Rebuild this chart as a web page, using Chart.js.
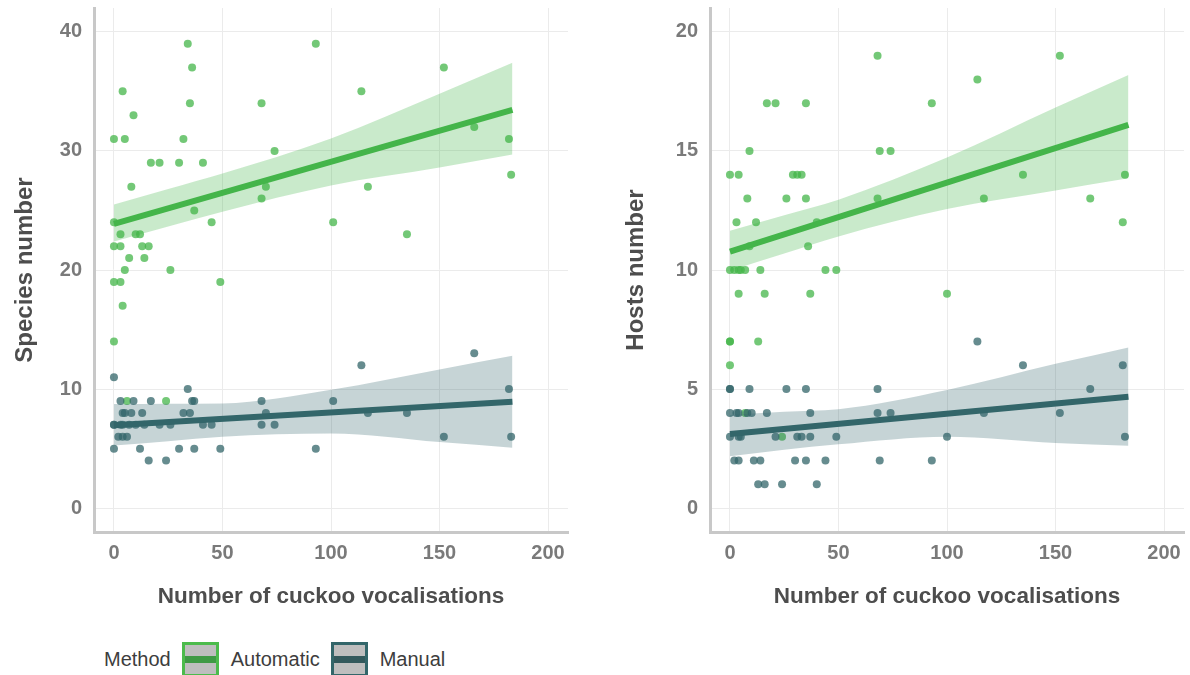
<!DOCTYPE html>
<html>
<head>
<meta charset="utf-8">
<script src="https://cdn.jsdelivr.net/npm/chart.js@4.4.1/dist/chart.umd.min.js"></script>
<style>
  body { margin: 0; background: #fff; width: 1190px; height: 675px; overflow: hidden; position: relative; font-family: "Liberation Sans", Arial, sans-serif; }
  canvas { position: absolute; top: 0; }
  #species { left: 0; }
  #hosts { left: 616px; }
  .legend { position: absolute; left: 104px; top: 642px; height: 35px; display: flex; align-items: center; font-size: 20px; color: #3d3d3d; }
  .key { width: 31px; height: 29px; background: #bebebe; border: 3px solid; position: relative; margin: 0 12px 0 11px; }
  .key span { position: absolute; left: 0; right: 0; top: 11px; height: 7px; }
</style>
</head>
<body>
<canvas id="species" width="590" height="620"></canvas>
<canvas id="hosts" width="574" height="620"></canvas>
<div class="legend">
  <span>Method</span>
  <div class="key" style="border-color:#4cbb4c"><span style="background:#3f9a45"></span></div>
  <span>Automatic</span>
  <div class="key" style="border-color:#33666a"><span style="background:#33595c"></span></div>
  <span>Manual</span>
</div>
<script>
// axis ticks
const xTicks = [0, 50, 100, 150, 200];
const speciesTicks = [0, 10, 20, 30, 40];
const hostsTicks = [0, 5, 10, 15, 20];

// species number, automatic method
const speciesAutoX = [0, 0, 0, 0, 0, 3, 3, 3, 4, 4, 5, 5, 6, 7, 8, 9, 10, 12, 13, 14, 16, 17, 21, 24, 26, 30, 32, 34, 35, 36, 37, 41, 45, 49, 68, 68, 70, 74, 93, 101, 114, 117, 135, 152, 166, 182, 183];
const speciesAutoY = [31, 24, 22, 19, 14, 23, 22, 19, 35, 17, 31, 20, 9, 21, 27, 33, 23, 23, 22, 21, 22, 29, 29, 9, 20, 29, 31, 39, 34, 37, 25, 29, 24, 19, 34, 26, 27, 30, 39, 24, 35, 27, 23, 37, 32, 31, 28];
// species number, manual method
const speciesManX = [0, 0, 0, 0, 2, 3, 3, 4, 4, 4, 5, 6, 7, 8, 9, 10, 12, 13, 14, 16, 17, 21, 24, 26, 30, 32, 34, 35, 36, 37, 37, 41, 45, 49, 68, 68, 70, 74, 93, 101, 114, 117, 135, 152, 166, 182, 183];
const speciesManY = [11, 7, 7, 5, 6, 9, 7, 8, 7, 6, 8, 6, 7, 8, 9, 7, 5, 8, 7, 4, 9, 7, 4, 7, 5, 8, 10, 8, 9, 9, 5, 7, 7, 5, 9, 7, 8, 7, 5, 9, 12, 8, 8, 6, 13, 10, 6];

// hosts number, automatic method
const hostsAutoX = [0, 0, 0, 0, 0, 2, 3, 4, 4, 4, 5, 7, 7, 8, 9, 9, 12, 13, 14, 16, 17, 21, 24, 26, 29, 31, 33, 35, 35, 36, 37, 40, 44, 49, 68, 68, 69, 74, 93, 100, 114, 117, 135, 152, 166, 181, 182];
const hostsAutoY = [14, 10, 7, 7, 6, 10, 12, 14, 10, 9, 10, 10, 4, 13, 15, 11, 12, 7, 10, 9, 17, 17, 3, 13, 14, 14, 14, 17, 13, 11, 9, 12, 10, 10, 19, 13, 15, 15, 17, 9, 18, 13, 14, 19, 13, 12, 14];
// hosts number, manual method
const hostsManX = [0, 0, 0, 0, 2, 3, 4, 4, 4, 5, 8, 9, 10, 11, 13, 14, 16, 17, 21, 24, 26, 30, 31, 33, 35, 35, 37, 37, 40, 44, 49, 68, 68, 69, 74, 93, 100, 114, 117, 135, 152, 166, 181, 182];
const hostsManY = [5, 5, 4, 3, 2, 4, 4, 3, 2, 3, 4, 5, 4, 2, 1, 2, 1, 4, 3, 1, 5, 2, 3, 3, 5, 2, 4, 3, 1, 2, 3, 5, 4, 2, 4, 2, 3, 7, 4, 6, 4, 5, 6, 3];

// fitted lines and confidence bands
const fitX = [0, 183.6];
const speciesAutoFit = [23.87, 33.45];
const speciesManFit = [6.97, 8.93];
const hostsAutoFit = [10.77, 16.09];
const hostsManFit = [3.11, 4.68];

const bandX = [0, 25, 50, 100, 150, 183.6];
const speciesAutoUpper = [25.5, 26.8, 28.1, 31.05, 34.8, 37.4];
const speciesAutoLower = [22.4, 23.65, 24.9, 27.1, 28.6, 29.7];
const speciesManUpper = [8.74, 8.77, 8.8, 9.95, 11.65, 12.8];
const speciesManLower = [5.27, 5.63, 6.0, 6.27, 5.55, 5.07];
const hostsAutoUpper = [11.65, 12.3, 12.95, 14.72, 16.82, 18.19];
const hostsAutoLower = [9.97, 10.69, 11.41, 12.56, 13.34, 13.85];
const hostsManUpper = [3.91, 4.05, 4.15, 4.96, 6.06, 6.75];
const hostsManLower = [2.18, 2.45, 2.68, 3.0, 2.74, 2.62];

const autoColor = "#44b54a";
const manColor = "#33666a";

function toPoints(xs, ys) {
  return xs.map((x, i) => ({ x: x, y: ys[i] }));
}

function pointSet(xs, ys, color, order) {
  return {
    data: toPoints(xs, ys),
    backgroundColor: color,
    borderWidth: 0,
    pointRadius: 4,
    order: order,
  };
}

function bandSet(xs, ys, fillColor, fill, order) {
  return {
    data: toPoints(xs, ys),
    showLine: true,
    borderWidth: 0,
    borderColor: "rgba(0,0,0,0)",
    backgroundColor: fillColor,
    pointRadius: 0,
    cubicInterpolationMode: "monotone",
    fill: fill,
    order: order,
  };
}

function lineSet(xs, ys, color, order) {
  return {
    data: toPoints(xs, ys),
    showLine: true,
    borderColor: color,
    borderWidth: 6,
    borderCapStyle: "butt",
    pointRadius: 0,
    fill: false,
    order: order,
  };
}

// keep the plot area fixed: no extra room for half-labels
function noPadding(axis) {
  axis.paddingTop = 0;
  axis.paddingBottom = 0;
  axis.paddingLeft = 0;
  axis.paddingRight = 0;
}

function makePanel(id, yTitle, titlePad, rightPad, yMin, yMax, yTicks, d) {
  const ctx = document.getElementById(id).getContext("2d");
  return new Chart(ctx, {
    type: "scatter",
    data: {
      datasets: [
        pointSet(d.autoX, d.autoY, "rgba(68,181,74,0.75)", 7),
        pointSet(d.manX, d.manY, "rgba(51,102,106,0.75)", 6),
        bandSet(bandX, d.autoUpper, "rgba(60,180,70,0.28)", false, 5),
        bandSet(bandX, d.autoLower, "rgba(60,180,70,0.28)", "-1", 5),
        lineSet(fitX, d.autoFit, autoColor, 3),
        bandSet(bandX, d.manUpper, "rgba(51,102,106,0.28)", false, 2),
        bandSet(bandX, d.manLower, "rgba(51,102,106,0.28)", "-1", 2),
        lineSet(fitX, d.manFit, manColor, 1),
      ],
    },
    options: {
      responsive: false,
      animation: false,
      events: [],
      layout: { autoPadding: false, padding: { top: 8, right: rightPad, bottom: 0, left: 0 } },
      plugins: { legend: { display: false }, tooltip: { enabled: false } },
      scales: {
        x: {
          type: "linear",
          min: -9.2,
          max: 209.2,
          afterBuildTicks: (axis) => {
            axis.ticks = xTicks.map((v) => ({ value: v }));
          },
          afterFit: (axis) => {
            axis.height = 88;
            noPadding(axis);
          },
          grid: { color: "#ebebeb", lineWidth: 1, drawTicks: false },
          border: { display: true, color: "#c8c8c8", width: 3 },
          ticks: {
            color: "#7a7a7a",
            padding: 9,
            font: { family: "Liberation Sans", size: 20, weight: "bold" },
          },
          title: {
            display: true,
            text: "Number of cuckoo vocalisations",
            color: "#4d4d4d",
            padding: { top: 0, bottom: 10 },
            font: { family: "Liberation Sans", size: 22.5, weight: "bold" },
          },
        },
        y: {
          type: "linear",
          min: yMin,
          max: yMax,
          afterBuildTicks: (axis) => {
            axis.ticks = yTicks.map((v) => ({ value: v }));
          },
          afterFit: (axis) => {
            axis.width = 94;
            noPadding(axis);
          },
          grid: { color: "#ebebeb", lineWidth: 1, drawTicks: false },
          border: { display: true, color: "#c8c8c8", width: 3 },
          ticks: {
            color: "#7a7a7a",
            padding: 12,
            font: { family: "Liberation Sans", size: 20, weight: "bold" },
          },
          title: {
            display: true,
            text: yTitle,
            color: "#4d4d4d",
            padding: { top: titlePad, bottom: 0 },
            font: { family: "Liberation Sans", size: 24, weight: "bold" },
          },
        },
      },
    },
  });
}

makePanel("species", "Species number", 11, 22, -2, 42, speciesTicks, {
  autoX: speciesAutoX, autoY: speciesAutoY, manX: speciesManX, manY: speciesManY,
  autoFit: speciesAutoFit, manFit: speciesManFit,
  autoUpper: speciesAutoUpper, autoLower: speciesAutoLower,
  manUpper: speciesManUpper, manLower: speciesManLower,
});

makePanel("hosts", "Hosts number", 6, 6, -1, 21, hostsTicks, {
  autoX: hostsAutoX, autoY: hostsAutoY, manX: hostsManX, manY: hostsManY,
  autoFit: hostsAutoFit, manFit: hostsManFit,
  autoUpper: hostsAutoUpper, autoLower: hostsAutoLower,
  manUpper: hostsManUpper, manLower: hostsManLower,
});
</script>
</body>
</html>
